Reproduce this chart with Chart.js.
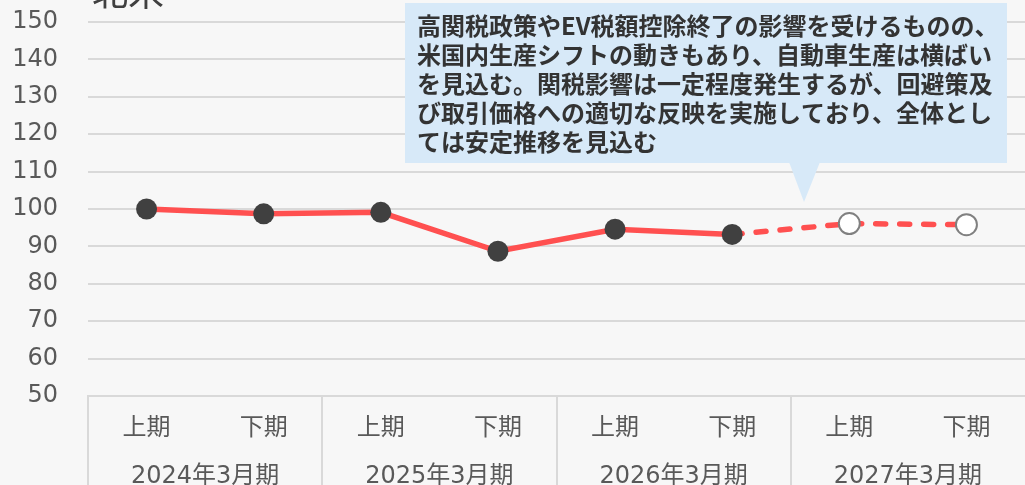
<!DOCTYPE html>
<html>
<head>
<meta charset="utf-8">
<script src="https://cdn.jsdelivr.net/npm/chart.js@4.4.1/dist/chart.umd.min.js"></script>
<style>
  html, body { margin: 0; padding: 0; background: #f7f7f7; }
  #wrap { position: relative; width: 1025px; height: 485px; overflow: hidden; }
</style>
</head>
<body>
<div id="wrap"><canvas id="chart"></canvas></div>
<script>
// ---------- data ----------
const halfLabels = ["上期", "下期", "上期", "下期", "上期", "下期", "上期", "下期"];
const yearLabels = ["2024年3月期", "2025年3月期", "2026年3月期", "2027年3月期"];
const values = [100, 98.7, 99.1, 88.7, 94.6, 93.2, 96.1, 95.8];
const forecastFrom = 6; // index of first forecast point
const yTicks = [50, 60, 70, 80, 90, 100, 110, 120, 130, 140, 150];
const titleText = "北米";
const noteLines = [
  "高関税政策やEV税額控除終了の影響を受けるものの、",
  "米国内生産シフトの動きもあり、自動車生産は横ばい",
  "を見込む。関税影響は一定程度発生するが、回避策及",
  "び取引価格への適切な反映を実施しており、全体とし",
  "ては安定推移を見込む"
];

// ---------- styles ----------
const FONT = '"DejaVu Sans", "Noto Sans CJK JP", sans-serif';
const CJK_FONT = '"Noto Sans CJK JP", sans-serif';
const GRID = "#d9d9d9";
const TEXT = "#595959";
const LINE = "#ff5050";

// title (cut at the top edge) and the callout box
const decorPlugin = {
  id: "decor",
  afterDraw(chart) {
    const ctx = chart.ctx;
    ctx.save();
    ctx.fillStyle = "#404040";
    ctx.font = "36px " + CJK_FONT;
    ctx.textBaseline = "ideographic";
    ctx.textAlign = "left";
    ctx.fillText(titleText, 92, 10);

    // callout
    ctx.fillStyle = "#d7e9f8";
    ctx.fillRect(405, 3, 602, 160);
    ctx.beginPath();
    ctx.moveTo(789, 162);
    ctx.lineTo(820, 162);
    ctx.lineTo(804, 202);
    ctx.closePath();
    ctx.fill();

    ctx.fillStyle = "#333333";
    ctx.font = "600 24px " + CJK_FONT;
    ctx.textBaseline = "middle";
    noteLines.forEach((line, i) => {
      ctx.fillText(line, 417, 26 + i * 29);
    });
    ctx.restore();
  }
};

new Chart(document.getElementById("chart"), {
  type: "line",
  data: {
    labels: halfLabels,
    datasets: [{
      data: values,
      borderColor: LINE,
      borderWidth: 5.5,
      borderCapStyle: "round",
      tension: 0,
      segment: {
        borderDash: c => c.p1DataIndex >= forecastFrom ? [10, 14] : undefined
      },
      pointRadius: 10.5,
      pointHoverRadius: 10.5,
      pointBorderWidth: c => c.dataIndex >= forecastFrom ? 2 : 0,
      pointBackgroundColor: c => c.dataIndex >= forecastFrom ? "#ffffff" : "#404040",
      pointBorderColor: c => c.dataIndex >= forecastFrom ? "#808080" : "#404040"
    }]
  },
  options: {
    responsive: true,
    maintainAspectRatio: false,
    animation: false,
    layout: { autoPadding: false, padding: { top: 22, right: 0, bottom: 0, left: 0 } },
    plugins: { legend: { display: false }, tooltip: { enabled: false } },
    scales: {
      x: {
        type: "category",
        position: "bottom",
        weight: 0,
        offset: true,
        grid: {
          offset: true,
          drawOnChartArea: false,
          drawTicks: true,
          tickLength: 95,
          lineWidth: 2,
          color: c => (c.index !== undefined && c.index % 2 === 0) ? GRID : "rgba(0,0,0,0)"
        },
        border: { color: GRID, width: 2 },
        ticks: {
          padding: -77,
          autoSkip: false,
          maxRotation: 0,
          color: TEXT,
          font: { family: FONT, size: 24 }
        },
        afterFit: s => { s.height = 44; }
      },
      x2: {
        type: "category",
        position: "bottom",
        weight: 1,
        labels: yearLabels,
        offset: true,
        grid: { display: false },
        border: { display: false },
        ticks: {
          padding: 14,
          autoSkip: false,
          maxRotation: 0,
          color: TEXT,
          font: { family: FONT, size: 24 }
        },
        afterFit: s => { s.height = 45; }
      },
      y: {
        min: 50,
        max: 150,
        afterBuildTicks: s => { s.ticks = yTicks.map(v => ({ value: v })); },
        grid: { color: GRID, lineWidth: 2, drawTicks: false },
        border: { display: false },
        ticks: {
          padding: 30,
          color: TEXT,
          font: { family: FONT, size: 24 }
        },
        afterFit: s => {
          s.width = 88;
          s.paddingTop = 0;
          s.paddingBottom = 0;
        }
      }
    }
  },
  plugins: [decorPlugin]
});
</script>
</body>
</html>
